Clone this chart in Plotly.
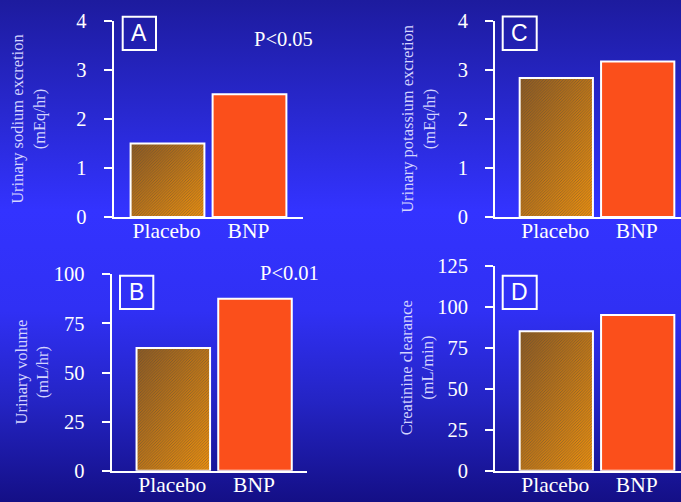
import base64
import plotly.graph_objects as go

# ---- data ----
categories = ["Placebo", "BNP"]
sodium = [1.5, 2.5]          # A: Urinary sodium excretion (mEq/hr)
volume = [62.5, 87.5]        # B: Urinary volume (mL/hr)
potassium = [2.83, 3.17]     # C: Urinary potassium excretion (mEq/hr)
creatinine = [85, 95]        # D: Creatinine clearance (mL/min)

panel_letters = ["A", "B", "C", "D"]
p_texts = {"A": "P<0.05", "B": "P<0.01"}
y_titles = {
    "A": "Urinary sodium excretion<br>(mEq/hr)",
    "B": "Urinary volume<br>(mL/hr)",
    "C": "Urinary potassium excretion<br>(mEq/hr)",
    "D": "Creatinine clearance<br>(mL/min)",
}
y_ticks = {
    "A": [0, 1, 2, 3, 4],
    "B": [0, 25, 50, 75, 100],
    "C": [0, 1, 2, 3, 4],
    "D": [0, 25, 50, 75, 100, 125],
}
values = {"A": sodium, "B": volume, "C": potassium, "D": creatinine}

W, H = 681, 502
SERIF = "Liberation Serif, Times New Roman, serif"
SANS = "Liberation Sans, Arial, sans-serif"
BNP_COLOR = "#FB4F1B"
TITLE_COLOR = "#d4d4ff"
BAR_W = 0.9

# panel geometry in pixels: x-domain, y-domain (top, bottom), category centres
geom = {
    "A": dict(x=(113.5, 303), y=(20.7, 217), c=(167.5, 249.5), box=(122.7, 16.7, 156, 50), title_x=28, p=(283, 39)),
    "B": dict(x=(111.7, 307), y=(274.3, 470.7), c=(173.3, 255.0), box=(120, 275.7, 153.3, 309), title_x=31, p=(289, 272.7)),
    "C": dict(x=(495, 681), y=(20.7, 217), c=(556.3, 637.7), box=(502.7, 16.5, 536.7, 50), title_x=418, p=None),
    "D": dict(x=(495, 681), y=(265.7, 470.7), c=(556.3, 637.7), box=(502.7, 275.7, 536.7, 309), title_x=417, p=None),
}


def svg_uri(svg):
    return "data:image/svg+xml;base64," + base64.b64encode(svg.encode()).decode()


bg_svg = (
    "<svg xmlns='http://www.w3.org/2000/svg' width='100' height='100' preserveAspectRatio='none'>"
    "<defs><linearGradient id='g' x1='0' y1='0' x2='0' y2='1'>"
    "<stop offset='0' stop-color='#1d1b9e'/>"
    "<stop offset='0.22' stop-color='#2828cf'/>"
    "<stop offset='0.42' stop-color='#3333ff'/>"
    "<stop offset='0.62' stop-color='#3030f4'/>"
    "<stop offset='0.8' stop-color='#2424c4'/>"
    "<stop offset='1' stop-color='#140f86'/>"
    "</linearGradient></defs><rect width='100' height='100' fill='url(#g)'/></svg>"
)
bar_svg = (
    "<svg xmlns='http://www.w3.org/2000/svg' width='100' height='100' preserveAspectRatio='none'>"
    "<defs><linearGradient id='g' x1='0' y1='0' x2='1' y2='1'>"
    "<stop offset='0' stop-color='#8d5a22'/>"
    "<stop offset='1' stop-color='#f2920c'/>"
    "</linearGradient></defs><rect width='100' height='100' fill='url(#g)'/></svg>"
)

fig = go.Figure()
images = [dict(source=svg_uri(bg_svg), xref="paper", yref="paper", x=0, y=1, sizex=1, sizey=1,
               sizing="stretch", xanchor="left", yanchor="top", layer="below")]
shapes = []
annotations = []
layout_axes = {}

for i, key in enumerate(["A", "B", "C", "D"]):
    g = geom[key]
    n = i + 1
    xa = "x" if n == 1 else f"x{n}"
    ya = "y" if n == 1 else f"y{n}"
    vals = values[key]
    spacing = g["c"][1] - g["c"][0]
    r0 = (g["x"][0] - g["c"][0]) / spacing
    r1 = (g["x"][1] - g["c"][0]) / spacing
    ymax = y_ticks[key][-1]

    # placebo bar (gradient underlay + fine hatch), BNP bar solid
    fig.add_trace(go.Bar(
        x=[0, 1], y=vals, width=BAR_W, xaxis=xa, yaxis=ya, showlegend=False,
        marker=dict(
            color=["rgba(0,0,0,0)", BNP_COLOR],
            line=dict(color="white", width=2),
            pattern=dict(shape=["/", ""], fgcolor="rgba(255,185,60,0.3)",
                         bgcolor=["rgba(0,0,0,0)", BNP_COLOR], size=2, solidity=0.4),
        ),
        hoverinfo="skip",
    ))
    images.append(dict(source=svg_uri(bar_svg), xref=xa, yref=ya, x=0 - BAR_W / 2, y=vals[0],
                       sizex=BAR_W, sizey=vals[0], sizing="stretch", xanchor="left",
                       yanchor="top", layer="below"))

    xname = "xaxis" if n == 1 else f"xaxis{n}"
    yname = "yaxis" if n == 1 else f"yaxis{n}"
    layout_axes[xname] = dict(
        domain=[g["x"][0] / W, g["x"][1] / W], range=[r0, r1], anchor=ya,
        tickvals=[0, 1], ticktext=categories, ticks="", showline=True, linecolor="white",
        linewidth=2, showgrid=False, zeroline=False, automargin=False,
        tickfont=dict(family=SERIF, size=21.5, color="white"), fixedrange=True,
        ticklabelstandoff=-7, ticklabelshift=-1,
    )
    layout_axes[yname] = dict(
        domain=[1 - g["y"][1] / H, 1 - g["y"][0] / H], range=[0, ymax], anchor=xa,
        tickvals=y_ticks[key], ticks="outside", ticklen=8, tickwidth=2, tickcolor="white",
        showline=True, linecolor="white", linewidth=2, showgrid=False, zeroline=False,
        automargin=False,
        tickfont=dict(family=SERIF, size=20.5, color="white"), ticklabelstandoff=13,
        fixedrange=True,
    )

    # panel letter box
    bx0, by0, bx1, by1 = g["box"]
    shapes.append(dict(type="rect", xref="paper", yref="paper", x0=bx0 / W, x1=bx1 / W,
                       y0=1 - by1 / H, y1=1 - by0 / H, line=dict(color="white", width=2),
                       fillcolor="rgba(0,0,0,0)"))
    annotations.append(dict(text=key, xref="paper", yref="paper", x=(bx0 + bx1) / 2 / W,
                            y=1 - (by0 + by1) / 2 / H, xanchor="center", yanchor="middle",
                            showarrow=False, font=dict(family=SANS, size=23, color="white")))
    # y title
    annotations.append(dict(text=y_titles[key], xref="paper", yref="paper", x=g["title_x"] / W,
                            y=1 - (g["y"][0] + g["y"][1]) / 2 / H, xanchor="center",
                            yanchor="middle", textangle=-90, showarrow=False,
                            font=dict(family=SERIF, size=16.5, color=TITLE_COLOR)))
    if g["p"]:
        annotations.append(dict(text=p_texts[key], xref="paper", yref="paper", x=g["p"][0] / W,
                                y=1 - g["p"][1] / H, xanchor="center", yanchor="middle",
                                showarrow=False, font=dict(family=SERIF, size=20.5, color="white")))

fig.update_layout(
    width=W, height=H, margin=dict(l=0, r=0, t=0, b=0, pad=0, autoexpand=False),
    paper_bgcolor="#1d1b9e", plot_bgcolor="rgba(0,0,0,0)",
    images=images, shapes=shapes, annotations=annotations, bargap=0.1,
    **layout_axes,
)

fig.write_html(
    "out.html",
    config={"displayModeBar": False},
    post_script="document.body.style.margin='0';document.body.style.overflow='hidden';",
)
